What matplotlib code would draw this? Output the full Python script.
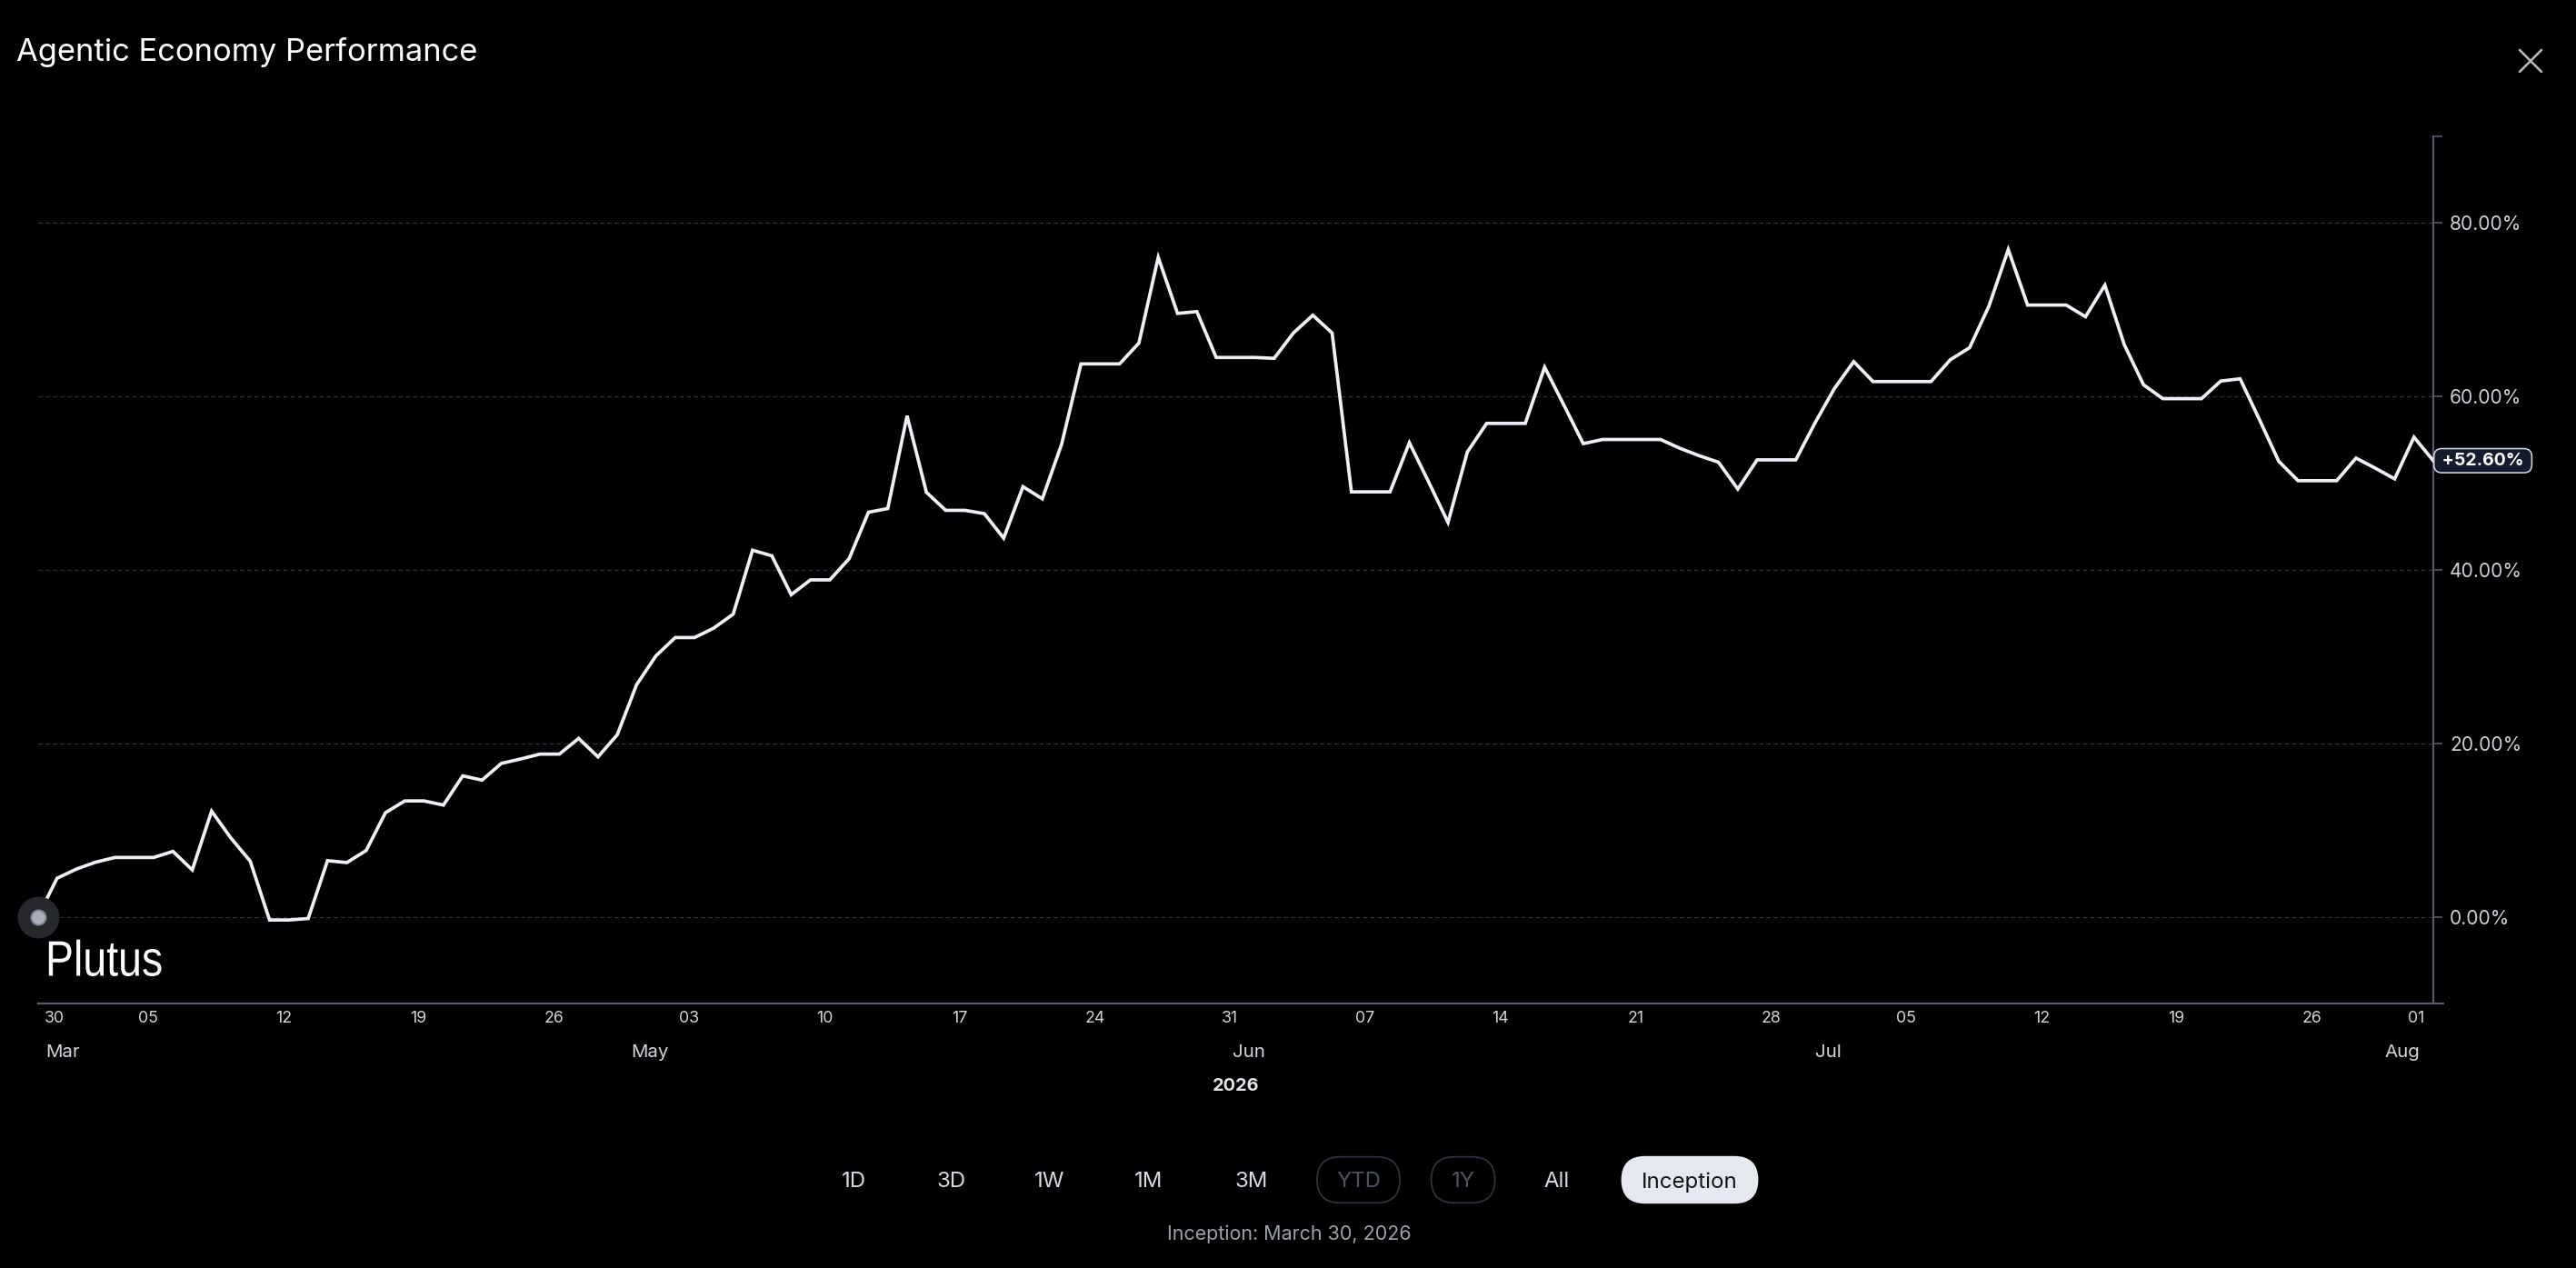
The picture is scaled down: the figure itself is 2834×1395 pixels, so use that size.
import matplotlib
matplotlib.use("Agg")
import matplotlib.pyplot as plt
import matplotlib.dates as mdates
import matplotlib.transforms as mtransforms
from matplotlib.patches import FancyBboxPatch
from matplotlib.lines import Line2D
from matplotlib.ticker import FuncFormatter
from matplotlib.patheffects import AbstractPathEffect
import pandas as pd

# ---------------- data ----------------
title = "Agentic Economy Performance"
start_date = "2026-03-30"
returns_pct = [
    0.0, 4.44, 5.5, 6.3, 6.84, 6.84, 6.84, 7.54, 5.40, 12.18,
    9.08, 6.41, -0.37, -0.37, -0.2, 6.47, 6.25, 7.64, 12.0, 13.36,
    13.36, 12.88, 16.25, 15.76, 17.69, 18.2, 18.76, 18.76, 20.57, 18.44,
    21.0, 26.77, 30.09, 32.2, 32.2, 33.3, 34.9, 42.27, 41.63, 37.14,
    38.85, 38.85, 41.3, 46.65, 47.08, 57.77, 48.95, 46.87, 46.87, 46.49,
    43.66, 49.6, 48.2, 54.5, 63.76, 63.76, 63.76, 66.16, 76.05, 69.58,
    69.79, 64.5, 64.5, 64.5, 64.4, 67.33, 69.37, 67.33, 49.0, 49.0,
    49.0, 54.67, 50.13, 45.48, 53.6, 56.9, 56.9, 56.9, 63.38, 59.0,
    54.56, 55.04, 55.04, 55.04, 55.04, 54.03, 53.17, 52.42, 49.33, 52.69,
    52.69, 52.69, 56.97, 60.92, 64.02, 61.72, 61.72, 61.72, 61.72, 64.24,
    65.63, 70.43, 76.95, 70.54, 70.54, 70.54, 69.2, 72.84, 66.0, 61.35,
    59.75, 59.75, 59.75, 61.78, 62.04, 57.34, 52.53, 50.29, 50.29, 50.29,
    52.9, 51.73, 50.5, 55.31, 52.6,
]
tick_dates = ["2026-03-30", "2026-04-05", "2026-04-12", "2026-04-19", "2026-04-26",
              "2026-05-03", "2026-05-10", "2026-05-17", "2026-05-24", "2026-05-31",
              "2026-06-07", "2026-06-14", "2026-06-21", "2026-06-28", "2026-07-05",
              "2026-07-12", "2026-07-19", "2026-07-26", "2026-08-01"]
tick_labels = ["30", "05", "12", "19", "26", "03", "10", "17", "24", "31",
               "07", "14", "21", "28", "05", "12", "19", "26", "01"]
month_dates = ["2026-03-30", "2026-05-01", "2026-06-01", "2026-07-01", "2026-08-01"]
month_labels = ["Mar", "May", "Jun", "Jul", "Aug"]
year_label = "2026"
y_ticks = [0, 20, 40, 60, 80]
watermark = "Plutus"
range_buttons = ["1D", "3D", "1W", "1M", "3M", "YTD", "1Y", "All", "Inception"]
disabled_buttons = ["YTD", "1Y"]
active_button = "Inception"
caption = "Inception: March 30, 2026"

# ---------------- layout (pixels) ----------------
W, H, DPI = 2834, 1395, 100
PT = 72.0 / DPI
L, R, T, B = 41.5, 2677.0, 150.0, 1104.0
button_x = [939.6, 1046, 1155, 1264, 1377, 1494.5, 1609.6, 1713, 1859]
pill_w = {"YTD": 91, "1Y": 70, "Inception": 149}


class HorizontalSqueeze(AbstractPathEffect):
    """Draw text glyphs narrowed horizontally about a fixed left edge (pixels)."""

    def __init__(self, sx, x0):
        super().__init__()
        self.sx = sx
        self.x0 = x0

    def draw_path(self, renderer, gc, tpath, affine, rgbFace=None):
        squeeze = mtransforms.Affine2D().translate(-self.x0, 0).scale(self.sx, 1).translate(self.x0, 0)
        renderer.draw_path(gc, tpath, affine + squeeze, rgbFace)


plt.rcParams['font.family'] = ['Inter', 'DejaVu Sans']

fig = plt.figure(figsize=(W / DPI, H / DPI), dpi=DPI, facecolor='black')
ax = fig.add_axes([L / W, 1 - B / H, (R - L) / W, (B - T) / H])
ax.set_facecolor('black')

dates = pd.date_range(start_date, periods=len(returns_pct), freq='D')
xs = mdates.date2num(dates.to_pydatetime())

ax.plot(xs, returns_pct, color='#eef0f5', lw=3.7 * PT, solid_joinstyle='miter', zorder=3)
# start marker
ax.plot(xs[0], returns_pct[0], 'o', ms=46 * PT, color='#26282d', mec='none',
        clip_on=False, zorder=4)
ax.plot(xs[0], returns_pct[0], 'o', ms=16 * PT, mfc='#aab0bb', mec='#7f8692',
        mew=2.0 * PT, clip_on=False, zorder=5)

ax.set_xlim(xs[0], xs[-1])
ax.set_ylim(-10, 90)

# y axis on right
axis_col = '#555a68'
ax.yaxis.tick_right()
ax.set_yticks(y_ticks)
ax.set_yticks([90], minor=True)
ax.yaxis.set_major_formatter(FuncFormatter(lambda v, _: f"{v:.2f}%"))
ax.yaxis.set_minor_formatter(FuncFormatter(lambda v, _: ""))
ax.tick_params(axis='y', which='both', direction='out', length=10 * PT, width=1.6 * PT,
               color=axis_col, pad=8 * PT, labelsize=21 * PT, labelcolor='#cdd0d7')
ax.yaxis.grid(True, which='major', color='#30333a', lw=1.1 * PT, linestyle=(0, (4.2, 3.0)))
ax.set_axisbelow(True)
ax.set_xticks([])

for s in ['left', 'top']:
    ax.spines[s].set_visible(False)
for s in ['right', 'bottom']:
    ax.spines[s].set_color(axis_col)
    ax.spines[s].set_linewidth(2.2 * PT)
ax.plot([1, 1 + 12 / (R - L)], [0, 0], transform=ax.transAxes, color=axis_col,
        lw=2.2 * PT, clip_on=False, solid_capstyle='butt')

# x tick labels
n = len(tick_dates)
for i, (d, lab) in enumerate(zip(tick_dates, tick_labels)):
    if i == 0:
        ha, dx = 'left', 7.5
    elif i == n - 1:
        ha, dx = 'right', -9.5
    else:
        ha, dx = 'center', -6
    ax.annotate(lab, xy=(mdates.date2num(pd.Timestamp(d)), 0), xycoords=('data', 'axes fraction'),
                xytext=(dx, -21.3), textcoords='offset pixels', ha=ha, va='baseline',
                fontsize=17.8 * PT, color='#d2d4da', annotation_clip=False)
m = len(month_dates)
for i, (d, lab) in enumerate(zip(month_dates, month_labels)):
    if i == 0:
        ha, dx = 'left', 8.5
    elif i == m - 1:
        ha, dx = 'right', -15
    else:
        ha, dx = 'center', -6.3
    ax.annotate(lab, xy=(mdates.date2num(pd.Timestamp(d)), 0), xycoords=('data', 'axes fraction'),
                xytext=(dx, -58.7), textcoords='offset pixels', ha=ha, va='baseline',
                fontsize=20.5 * PT, color='#d2d4da', annotation_clip=False)
ax.annotate(year_label, xy=(0.5, 0), xycoords='axes fraction', xytext=(0, -96),
            textcoords='offset pixels', ha='center', va='baseline', fontsize=20 * PT,
            fontweight='bold', color='#e2e4e9', annotation_clip=False)

# last value badge
trans = mtransforms.blended_transform_factory(ax.transAxes, ax.transData)
trans = trans + mtransforms.ScaledTranslation(5 / DPI, 0, fig.dpi_scale_trans)
ax.text(1.0, returns_pct[-1], f" {returns_pct[-1]:+.2f}% ", transform=trans, ha='left',
        va='center', fontsize=19.5 * PT, fontweight='bold', color='white', zorder=6,
        clip_on=False,
        bbox=dict(boxstyle='round,pad=0.22,rounding_size=0.45', fc='#141b2c',
                  ec='#cfd3dc', lw=1.6 * PT))

# watermark (condensed look)
wm_left = 50
fig.text(wm_left / W, 1 - 1073.5 / H, watermark, fontsize=55 * PT, color='white',
         family=['Liberation Sans'], va='baseline', ha='left',
         path_effects=[HorizontalSqueeze(0.845, wm_left)])

# title
fig.text(18.4 / W, 1 - 67.3 / H, title, fontsize=34.5 * PT, color='white',
         va='baseline', ha='left')

# close X
ident = mtransforms.IdentityTransform()
for xa, ya, xb, yb in [(2772, 55, 2796, 79), (2772, 79, 2796, 55)]:
    fig.add_artist(Line2D([xa, xb], [H - ya, H - yb], transform=ident, color='#b5b9c2',
                          lw=2.6 * PT, solid_capstyle='round'))

# range buttons
pill_h, pill_top = 50.6, 1272.7
for lab, cx in zip(range_buttons, button_x):
    if lab in pill_w:
        w = pill_w[lab]
        active = lab == active_button
        patch = FancyBboxPatch((cx - w / 2, H - pill_top - pill_h), w, pill_h,
                               boxstyle=f"round,pad=0,rounding_size={pill_h / 2}",
                               transform=ident,
                               fc='#e5e8ef' if active else 'none',
                               ec='#e5e8ef' if active else '#2e323c', lw=1.8 * PT)
        fig.add_artist(patch)
    if lab == active_button:
        col = '#111318'
    elif lab in disabled_buttons:
        col = '#4d5260'
    else:
        col = '#d7dae1'
    fig.text(cx / W, 1 - 1306.5 / H, lab, ha='center', va='baseline', fontsize=24 * PT,
             color=col, zorder=5)

fig.text(1418.5 / W, 1 - 1364.5 / H, caption, ha='center', va='baseline',
         fontsize=21.5 * PT, color='#9da1ab')

fig.savefig("out.png", dpi=DPI, facecolor='black')
